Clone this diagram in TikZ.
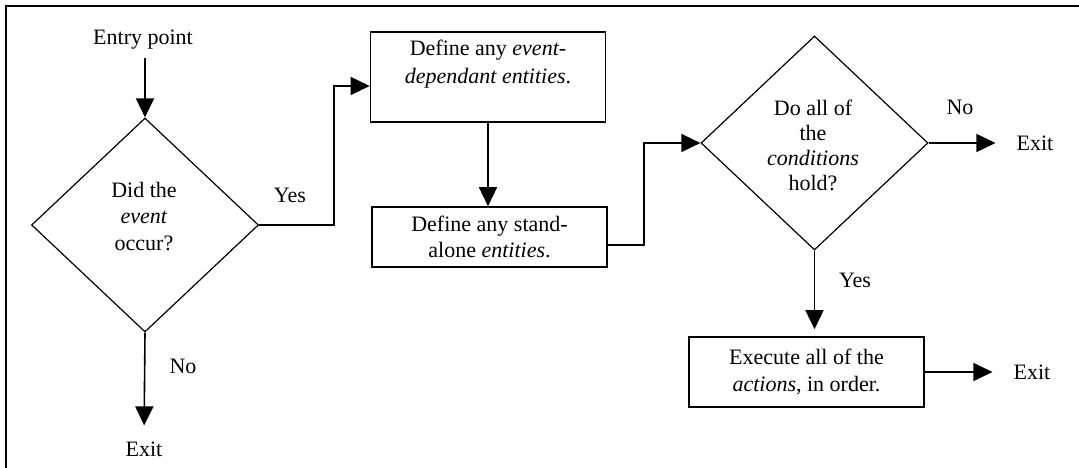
\documentclass[tikz,border=0pt]{standalone}
\usepackage{fontspec}
\setmainfont{Liberation Serif}
\usetikzlibrary{shapes.geometric,arrows.meta,calc}
\begin{document}
\begin{tikzpicture}[x=1pt,y=-1pt,
  every node/.style={font=\fontsize{22}{26.5}\selectfont, inner sep=0pt},
  box/.style={draw, line width=1.6pt, rectangle, minimum width=235pt, align=center},
  decision/.style={draw, line width=1.2pt, diamond, minimum width=227pt, minimum height=214pt},
  flow/.style={line width=1.6pt, -{Triangle[length=19pt,width=18pt]}},
  txt/.style={align=center}]
\useasboundingbox (0,0) rectangle (1079,468);

% page frame (top and left edges)
\draw[line width=2.2pt] (6,468) -- (6,6) -- (1079,6);

% first decision
\node (entry) at (143,40) {Entry point};
\node[decision] (d1) at (145,225) {};
\node[txt] (q1) at (144,216.5) {Did the\\\textit{event}\\occur?};
\node (yes1) at (290,195) {Yes};
\node (no1) at (183,366) {No};
\node (exit1) at (144,449) {Exit};

% entity definitions
\node[box, minimum height=90pt] (b1) at (488,77) {};
\node[txt, font=\fontsize{22}{28}\selectfont] (t1) at (488,64) {Define any \textit{event-}\\\textit{dependant entities}.};
\node[box, minimum height=60pt] (b2) at (489.5,237) {Define any stand-\\alone \textit{entities}.};

% second decision
\node[decision] (d2) at (814.5,143) {};
\node[txt, font=\fontsize{22}{25}\selectfont] (q2) at (813,145) {Do all of\\the\\\textit{conditions}\\hold?};
\node (no2) at (960,107) {No};
\node (exit2) at (1035,143) {Exit};
\node (yes2) at (855,280) {Yes};
\node[box, minimum height=70pt] (b3) at (806.5,372) {Execute all of the\\\textit{actions}, in order.};
\node (exit3) at (1032,372) {Exit};

% connectors
\draw[flow, shorten <=8pt] (entry.south -| d1.north) -- (d1.north);
\draw[flow, shorten >=16pt] (d1.south) -- (exit1.north);
\draw[flow] (d1.east) -- ++(75,0) |- ([yshift=-9pt]b1.west);
\draw[flow] (b1.south) -- (b1.south |- b2.north);
\draw[flow] ([yshift=-8pt]b2.east) -- ++(36,0) |- (d2.west);
\draw[flow, shorten >=21pt] (d2.east) -- (exit2.west);
\draw[flow, shorten >=7pt] (d2.south) -- (d2.south |- b3.north);
\draw[flow, shorten >=21pt] (b3.east) -- (exit3.west);
\end{tikzpicture}
\end{document}
